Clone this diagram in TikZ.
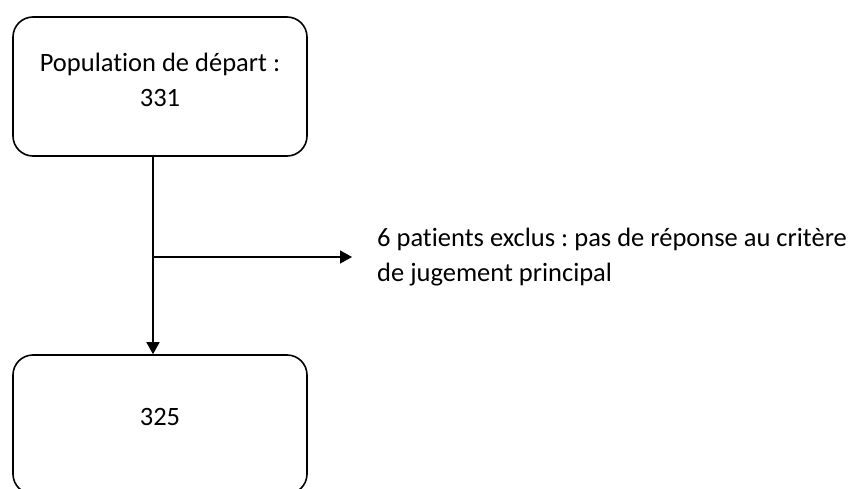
\documentclass[tikz,border=0pt]{standalone}
\usepackage{fontspec}
\setmainfont{Carlito}[Ligatures=NoCommon,Contextuals=NoAlternate]
\frenchspacing
\usetikzlibrary{arrows.meta,positioning}
\tikzset{
  stage/.style={draw,line width=1.6pt,rounded corners=20pt,minimum width=294pt,minimum height=139pt},
  flowtext/.style={font=\fontsize{26.5}{34.5}\selectfont,align=center},
  flow/.style={line width=1.6pt,-{Triangle[length=12pt,width=13pt]}}
}
\begin{document}
\begin{tikzpicture}[x=1pt,y=-1pt]
    \useasboundingbox (0,0) rectangle (851,489);
    \node[stage] (start) at (160,86.5) {};
    \node[flowtext] (starttext) at (160,80) {Population de départ :\\331};
    \node[stage] (final) at (160,424.5) {};
    \node[flowtext] (finaltext) at (160,417) {325};
    \node[flowtext,align=left,anchor=west,inner sep=0pt] (excl) at (377,257)
      {6 patients exclus : pas de réponse au critère\\de jugement principal};
    % trunk sits a bit left of the box centre
    \coordinate (top) at ([xshift=-7pt]start.south);
    \coordinate (bottom) at ([xshift=-7pt]final.north);
    \draw[flow] (top) -- (bottom);
    \coordinate (branch) at (top |- excl.west);
    \draw[flow] (branch) -- ([xshift=-25pt]excl.west);
\end{tikzpicture}
\end{document}
